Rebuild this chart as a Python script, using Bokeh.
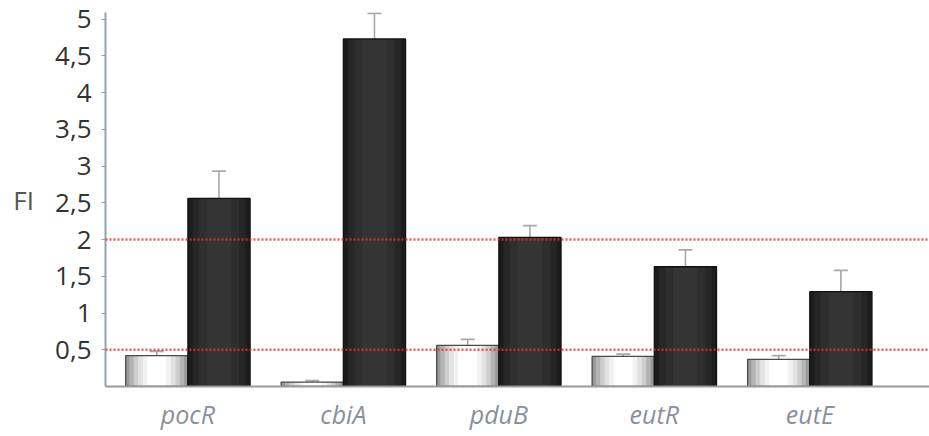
from bokeh.plotting import figure
from bokeh.models import ColumnDataSource, Whisker, TeeHead, Span, FixedTicker, Range1d
from bokeh.embed import file_html
from bokeh.resources import INLINE

genes = ["pocR", "cbiA", "pduB", "eutR", "eutE"]
ctrl = [0.42, 0.06, 0.56, 0.41, 0.37]
ctrl_err = [0.06, 0.02, 0.08, 0.03, 0.05]
treat = [2.56, 4.73, 2.03, 1.63, 1.29]
treat_err = [0.37, 0.35, 0.16, 0.23, 0.29]
thresholds = [0.5, 2.0]
yticks = [0.5, 1, 1.5, 2, 2.5, 3, 3.5, 4, 4.5, 5]
ytick_labels = ["0,5", "1", "1,5", "2", "2,5", "3", "3,5", "4", "4,5", "5"]

xs = list(range(len(genes)))
bw = 0.4
xc = [x - bw / 2 for x in xs]
xt = [x + bw / 2 for x in xs]

src = ColumnDataSource(dict(
    xc=xc, xt=xt, ctrl=ctrl, treat=treat,
    c_lo=[v - e for v, e in zip(ctrl, ctrl_err)],
    c_hi=[v + e for v, e in zip(ctrl, ctrl_err)],
    t_lo=[v - e for v, e in zip(treat, treat_err)],
    t_hi=[v + e for v, e in zip(treat, treat_err)],
))

p = figure(width=929, height=436, output_backend="svg", toolbar_location=None,
           x_range=Range1d(-0.53, 4.77), y_range=Range1d(0, 5.09),
           min_border_left=105, min_border_right=0, min_border_top=12,
           min_border_bottom=50)
p.outline_line_color = None
p.grid.visible = False
p.background_fill_color = "white"

# light bars with simulated gradient
light_layers = [(1.0, "#9a9a9a"), (0.88, "#b4b4b4"), (0.74, "#cecece"),
                (0.6, "#e2e2e2"), (0.45, "#f2f2f2"), (0.3, "#ffffff")]
for frac, col in light_layers:
    p.vbar(x="xc", top="ctrl", width=bw * frac, source=src, fill_color=col,
           line_color=None)
p.vbar(x="xc", top="ctrl", width=bw, source=src, fill_color=None,
       line_color="#4a4a4a", line_width=1.3)

dark_layers = [(1.0, "#1c1c1c"), (0.85, "#262626"), (0.65, "#2e2e2e"), (0.4, "#343434")]
for frac, col in dark_layers:
    p.vbar(x="xt", top="treat", width=bw * frac, source=src, fill_color=col,
           line_color=None)
p.vbar(x="xt", top="treat", width=bw, source=src, fill_color=None,
       line_color="#111111", line_width=1.3)

for base, lo, hi in (("xc", "c_lo", "c_hi"), ("xt", "t_lo", "t_hi")):
    w = Whisker(base=base, lower=lo, upper=hi, source=src, dimension="height",
                line_color="#a8a8a8", line_width=1.6,
                upper_head=TeeHead(size=14, line_color="#a8a8a8", line_width=1.8),
                lower_head=TeeHead(size=10, line_color="#8a8a8a", line_width=1.0))
    p.add_layout(w)

for t in thresholds:
    p.add_layout(Span(location=t, dimension="width", line_color="#e8302c",
                      line_alpha=0.8, line_width=2.5, line_dash="2 2", level="overlay"))

# y axis
p.yaxis.ticker = FixedTicker(ticks=yticks)
p.yaxis.major_label_overrides = {t: l for t, l in zip(yticks, ytick_labels)}
p.yaxis.major_label_text_font = "Open Sans"
p.yaxis.major_label_text_font_size = "26px"
p.yaxis.major_label_text_color = "#333333"
p.yaxis.axis_line_color = "#8fa3ad"
p.yaxis.axis_line_width = 2
p.yaxis.major_tick_line_color = "#8fa3ad"
p.yaxis.major_tick_out = 4
p.yaxis.major_tick_in = 0
p.yaxis.minor_tick_line_color = None
p.yaxis.major_label_standoff = 10
p.yaxis.axis_label = "FI"
p.yaxis.axis_label_text_font = "Open Sans"
p.yaxis.axis_label_text_font_size = "26px"
p.yaxis.axis_label_text_font_style = "normal"
p.yaxis.axis_label_text_color = "#555555"
p.yaxis.axis_label_standoff = 18
try:
    p.yaxis.axis_label_orientation = "horizontal"
    p.yaxis.axis_label_text_baseline = "bottom"
except Exception:
    pass

# x axis
p.xaxis.ticker = FixedTicker(ticks=xs)
p.xaxis.major_label_overrides = {x: g for x, g in zip(xs, genes)}
p.xaxis.major_label_text_font = "Open Sans"
p.xaxis.major_label_text_font_style = "italic"
p.xaxis.major_label_text_font_size = "25px"
p.xaxis.major_label_text_color = "#8a9099"
p.xaxis.axis_line_color = "#9a9a9a"
p.xaxis.axis_line_width = 2
p.xaxis.major_tick_line_color = None
p.xaxis.minor_tick_line_color = None
p.xaxis.major_label_standoff = 4

open("out.html", "w").write(file_html(p, INLINE))
